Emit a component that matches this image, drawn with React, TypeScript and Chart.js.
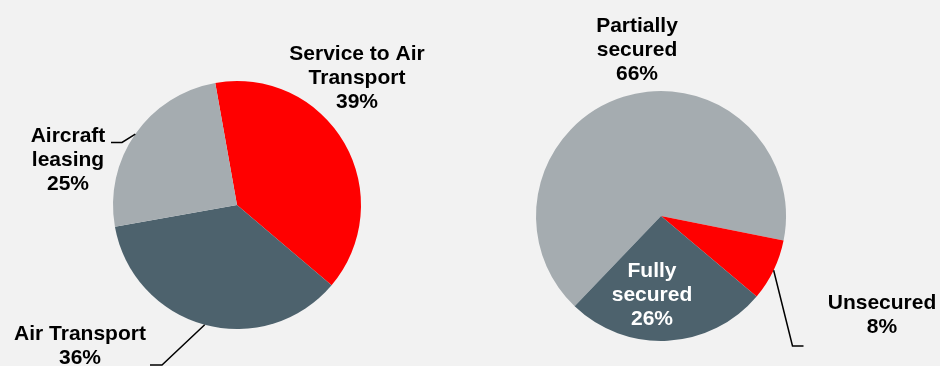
import React, { useEffect, useRef } from "react";
import { Chart, registerables } from "chart.js";

Chart.register(...registerables);

// ---- Data ----
const sectorCategories: string[][] = [["Service to Air", "Transport"], ["Air Transport"], ["Aircraft", "leasing"]];
const sectorValues: number[] = [39, 36, 25];

const securityCategories: string[][] = [["Partially", "secured"], ["Unsecured"], ["Fully", "secured"]];
const securityValues: number[] = [66, 8, 26];

// ---- Styles ----
const RED = "#ff0000";
const GREY = "#a5acb0";
const DARK = "#4d626d";
const BG = "#f2f2f2";
const FONT = "bold 21px 'Liberation Sans', Arial, sans-serif";
const LINE_H = 24;

type LabelLayout = { x: number; y: number; color: string; leader?: [number, number][] };

const sectorLayout: LabelLayout[] = [
  { x: 357, y: 60, color: "#000" },
  { x: 80, y: 340, color: "#000", leader: [[162, 365], [150, 365]] },
  { x: 68, y: 142, color: "#000", leader: [[122, 142.5], [111, 142.5]] },
];

const securityLayout: LabelLayout[] = [
  { x: 167, y: 32, color: "#000" },
  { x: 412, y: 309, color: "#000", leader: [[322.5, 346], [333.5, 346]] },
  { x: 182, y: 277, color: "#fff" },
];

const labelPlugin = {
  id: "pieLabels",
  afterDraw(chart: any, _args: any, opts: any) {
    const layout: LabelLayout[] = opts.layout || [];
    const ctx = chart.ctx;
    const meta = chart.getDatasetMeta(0);
    const values: number[] = chart.data.datasets[0].data;
    const total = values.reduce((a, b) => a + b, 0);
    ctx.save();
    meta.data.forEach((arc: any, i: number) => {
      const l = layout[i];
      if (!l) return;
      const props = arc.getProps(["x", "y", "startAngle", "endAngle", "outerRadius"], true);
      if (l.leader) {
        const mid = (props.startAngle + props.endAngle) / 2;
        const sx = props.x + Math.cos(mid) * props.outerRadius;
        const sy = props.y + Math.sin(mid) * props.outerRadius;
        ctx.beginPath();
        ctx.strokeStyle = "#000";
        ctx.lineWidth = 1.5;
        ctx.moveTo(sx, sy);
        l.leader.forEach(([px, py]) => ctx.lineTo(px, py));
        ctx.stroke();
      }
      const lbl = chart.data.labels[i];
      const lines: string[] = Array.isArray(lbl) ? [...lbl] : [lbl];
      lines.push(Math.round((values[i] / total) * 100) + "%");
      ctx.font = FONT;
      ctx.fillStyle = l.color;
      ctx.textAlign = "center";
      ctx.textBaseline = "alphabetic";
      lines.forEach((t, k) => ctx.fillText(t, l.x, l.y + k * LINE_H));
    });
    ctx.restore();
  },
};

function PieCanvas(props: {
  labels: string[][];
  values: number[];
  colors: string[];
  rotation: number;
  padding: { left: number; top: number; right: number; bottom: number };
  layout: LabelLayout[];
  left: number;
}) {
  const ref = useRef<HTMLCanvasElement>(null);
  useEffect(() => {
    if (!ref.current) return;
    const chart = new Chart(ref.current, {
      type: "pie",
      data: {
        labels: props.labels as any,
        datasets: [
          {
            data: props.values,
            backgroundColor: props.colors,
            borderWidth: 0,
          },
        ],
      },
      options: {
        responsive: false,
        animation: false,
        devicePixelRatio: 1,
        rotation: props.rotation,
        layout: { padding: props.padding },
        plugins: {
          legend: { display: false },
          tooltip: { enabled: false },
          pieLabels: { layout: props.layout },
        } as any,
      },
      plugins: [labelPlugin],
    });
    return () => chart.destroy();
  }, []);
  return (
    <canvas
      ref={ref}
      width={470}
      height={366}
      style={{ position: "absolute", left: props.left, top: 0, width: 470, height: 366 }}
    />
  );
}

export default function App() {
  return (
    <div style={{ position: "fixed", left: 0, top: 0, width: 940, height: 366, background: BG, overflow: "hidden" }}>
      <PieCanvas
        labels={sectorCategories}
        values={sectorValues}
        colors={[RED, DARK, GREY]}
        rotation={-10.1}
        padding={{ left: 113, top: 81, right: 109, bottom: 37 }}
        layout={sectorLayout}
        left={0}
      />
      <PieCanvas
        labels={securityCategories}
        values={securityValues}
        colors={[GREY, RED, DARK]}
        rotation={223.7}
        padding={{ left: 66, top: 91, right: 154, bottom: 25 }}
        layout={securityLayout}
        left={470}
      />
    </div>
  );
}
